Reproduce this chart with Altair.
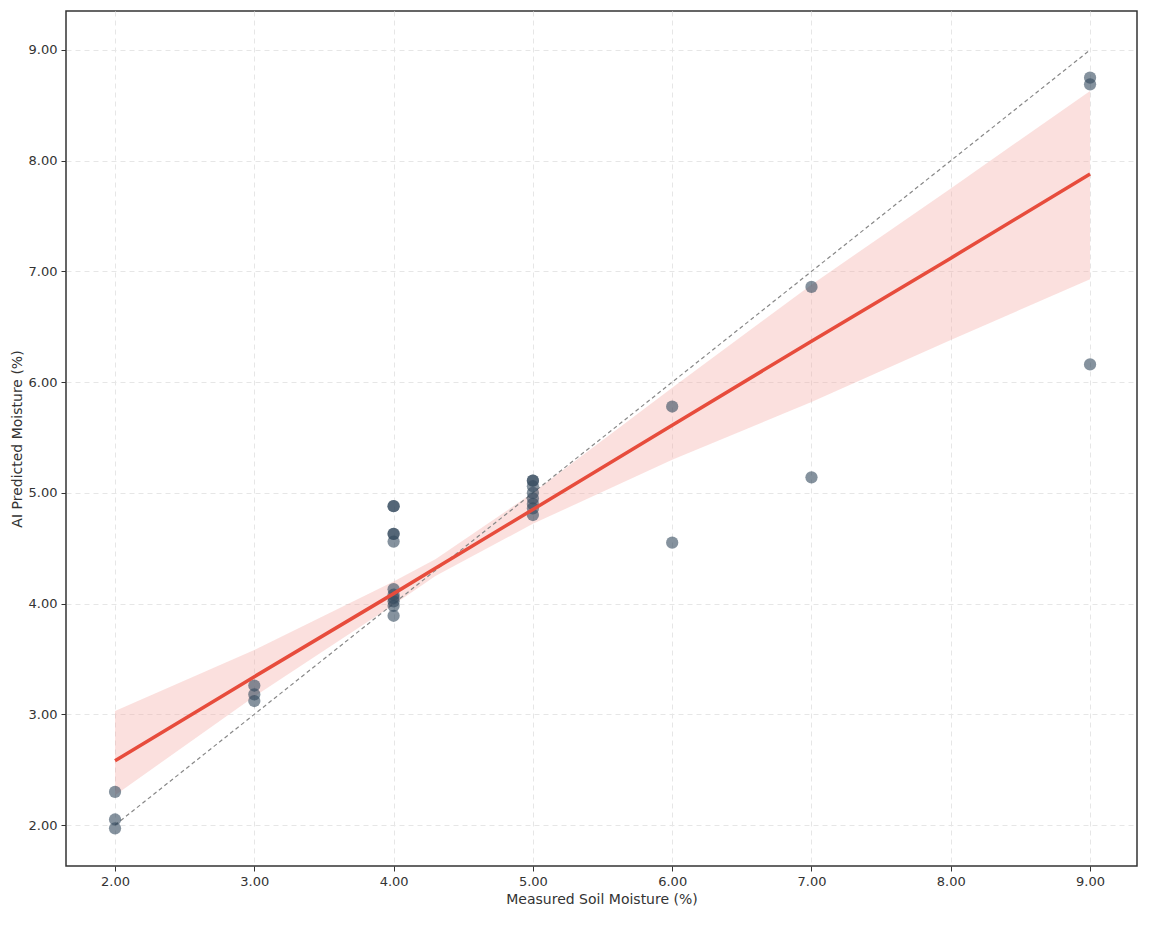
import altair as alt
import pandas as pd

# measured vs predicted points
measured = [2, 2, 2, 3, 3, 3,
            4, 4, 4, 4, 4, 4, 4, 4, 4, 4, 4,
            5, 5, 5, 5, 5, 5, 5, 5,
            6, 6, 7, 7, 9, 9, 9]
predicted = [2.30, 2.05, 1.97, 3.26, 3.18, 3.12,
             4.88, 4.88, 4.63, 4.63, 4.56, 4.13, 4.08, 4.05, 4.02, 3.98, 3.89,
             5.11, 5.11, 5.06, 5.00, 4.95, 4.90, 4.86, 4.80,
             5.78, 4.55, 6.86, 5.14, 8.75, 8.69, 6.16]

# fitted line and confidence band
fit_x = [2, 3, 4, 4.3, 5, 6, 7, 8, 9]
fit_y = [2.58, 3.34, 4.09, 4.32, 4.85, 5.61, 6.37, 7.12, 7.88]
fit_lo = [2.27, 3.16, 3.99, 4.25, 4.72, 5.30, 5.82, 6.38, 6.93]
fit_hi = [3.03, 3.58, 4.20, 4.40, 5.00, 5.95, 6.88, 7.75, 8.63]

ident = [2, 9]

pts = pd.DataFrame({"m": measured, "p": predicted})
fit = pd.DataFrame({"x": fit_x, "y": fit_y, "lo": fit_lo, "hi": fit_hi})
idf = pd.DataFrame({"x": ident, "y": ident})

xs = alt.Scale(domain=[1.648, 9.337], nice=False, zero=False)
ys = alt.Scale(domain=[1.63, 9.352], nice=False, zero=False)
xax = alt.Axis(format=".2f", values=[2, 3, 4, 5, 6, 7, 8, 9], title="Measured Soil Moisture (%)")
yax = alt.Axis(format=".2f", values=[2, 3, 4, 5, 6, 7, 8, 9], title="AI Predicted Moisture (%)")

band = alt.Chart(fit).mark_area(color="#f4a6a0", opacity=0.35).encode(
    x=alt.X("x:Q", scale=xs, axis=xax), y=alt.Y("lo:Q", scale=ys, axis=yax), y2="hi:Q")
idline = alt.Chart(idf).mark_line(color="#888888", strokeDash=[4, 3], strokeWidth=1.2).encode(
    x=alt.X("x:Q", scale=xs), y=alt.Y("y:Q", scale=ys))
dots = alt.Chart(pts).mark_circle(size=150, color="#34495e", opacity=0.6).encode(
    x=alt.X("m:Q", scale=xs), y=alt.Y("p:Q", scale=ys))
line = alt.Chart(fit).mark_line(color="#e74c3c", strokeWidth=3.5).encode(
    x=alt.X("x:Q", scale=xs), y=alt.Y("y:Q", scale=ys))

chart = (band + idline + dots + line).properties(
    width=1071, height=855, padding={"left": 2, "top": 3, "right": 4, "bottom": 2}
).configure_view(
    stroke="#333333", strokeWidth=1.5
).configure_axis(
    grid=True, gridColor="#e6e6e6", gridDash=[5, 4], domain=False, tickColor="#333333",
    labelFont="DejaVu Sans", titleFont="DejaVu Sans", labelFontSize=13, titleFontSize=14,
    labelColor="#333333", titleColor="#333333", titleFontWeight="normal", labelPadding=4
)

chart.save("out.html", embed_options={"renderer": "svg", "actions": False})
